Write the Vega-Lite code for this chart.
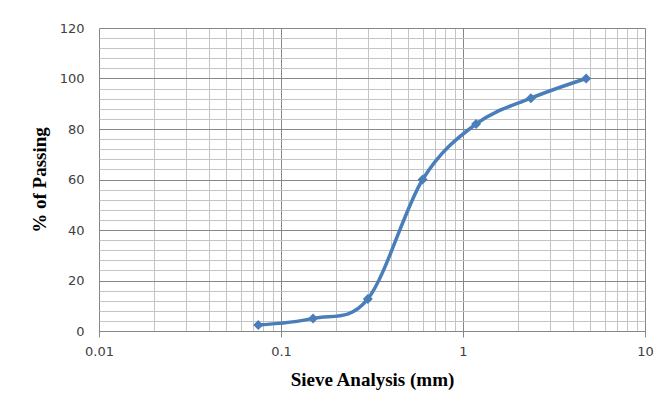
{
  "$schema": "https://vega.github.io/schema/vega-lite/v6.json",
  "autosize": {"type": "none"},
  "padding": {"left": 99, "top": 28, "right": 16, "bottom": 75},
  "width": 546,
  "height": 303,
  "background": "white",
  "config": {
    "view": {"stroke": null},
    "axis": {"labelFont": "DejaVu Sans", "labelFontSize": 13, "labelColor": "#404040", "titleFont": "Liberation Serif", "titleFontWeight": "bold", "titleFontSize": 19, "titleColor": "#000000"}
  },
  "data": {
    "values": [
      {"size": 0.075, "passing": 2.4},
      {"size": 0.15, "passing": 5},
      {"size": 0.3, "passing": 12.7},
      {"size": 0.6, "passing": 60},
      {"size": 1.18, "passing": 82},
      {"size": 2.36, "passing": 92.2},
      {"size": 4.75, "passing": 100}
    ]
  },
  "encoding": {
    "x": {
      "field": "size", "type": "quantitative",
      "scale": {"type": "log", "domain": [0.01, 10], "nice": false},
      "axis": {
        "title": "Sieve Analysis (mm)",
        "values": [0.01,0.02,0.03,0.04,0.05,0.06,0.07,0.08,0.09,0.1,0.2,0.3,0.4,0.5,0.6,0.7,0.8,0.9,1,2,3,4,5,6,7,8,9,10],
        "labelExpr": "indexof([0.01,0.1,1,10], datum.value) >= 0 ? format(datum.value, '~g') : ''",
        "labelFlush": false,
        "labelOverlap": false,
        "labelPadding": 8,
        "tickSize": 6,
        "tickColor": "#868686",
        "tickOpacity": {"condition": {"test": "indexof([0.01,0.1,1,10], datum.value) >= 0", "value": 1}, "value": 0},
        "domainColor": "#868686",
        "grid": true,
        "gridColor": {"condition": {"test": "indexof([0.01,0.1,1,10], datum.value) >= 0", "value": "#878787"}, "value": "#c4c4c4"},
        "gridOpacity": 1,
        "titlePadding": 12
      }
    },
    "y": {
      "field": "passing", "type": "quantitative",
      "scale": {"domain": [0, 120], "nice": false},
      "axis": {
        "title": "% of Passing",
        "values": [0,4,8,12,16,20,24,28,32,36,40,44,48,52,56,60,64,68,72,76,80,84,88,92,96,100,104,108,112,116,120],
        "labelExpr": "datum.value % 20 == 0 ? datum.label : ''",
        "labelOverlap": false,
        "labelPadding": 15,
        "ticks": false,
        "domain": false,
        "grid": true,
        "gridColor": {"condition": {"test": "datum.value % 20 == 0 && datum.value > 0", "value": "#878787"}, "value": "#c4c4c4"},
        "gridOpacity": 1,
        "titlePadding": 10
      }
    }
  },
  "layer": [
    {"mark": {"type": "line", "interpolate": "cardinal", "color": "#4a7ebb", "strokeWidth": 3.5}},
    {"mark": {"type": "point", "shape": "diamond", "filled": true, "size": 100, "color": "#4a7ebb", "opacity": 1}}
  ]
}
